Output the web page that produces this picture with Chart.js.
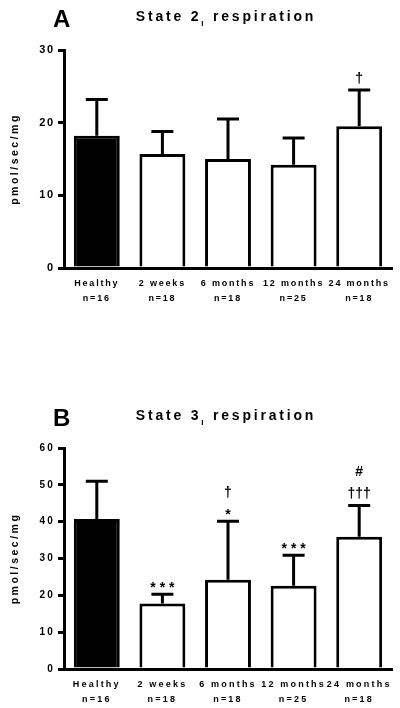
<!DOCTYPE html>
<html>
<head>
<meta charset="utf-8">
<script src="https://cdn.jsdelivr.net/npm/chart.js@4.4.1/dist/chart.umd.min.js"></script>
<style>
  html, body { margin: 0; padding: 0; background: #fff; }
  #wrap { position: relative; width: 400px; height: 708px; }
  canvas { position: absolute; left: 0; }
  #panelA { top: 0; }
  #panelB { top: 354px; }
</style>
</head>
<body>
<div id="wrap">
  <canvas id="panelA" width="400" height="354"></canvas>
  <canvas id="panelB" width="400" height="354"></canvas>
</div>
<script>
// groups and group sizes
const groups = ['Healthy', '2 weeks', '6 months', '12 months', '24 months'];
const groupSizes = ['n=16', 'n=18', 'n=18', 'n=25', 'n=18'];
const barColors = ['#000000', '#ffffff', '#ffffff', '#ffffff', '#ffffff'];

// State 2 (panel A): means and mean + SD
const state2Mean = [18.2, 15.7, 15.0, 14.2, 19.5];
const state2Upper = [23.2, 18.8, 20.5, 17.9, 24.5];
const state2Marks = [[], [], [], [], ['†']];
const state2Ticks = [0, 10, 20, 30];

// State 3 (panel B)
const state3Mean = [40.7, 17.8, 24.2, 22.6, 35.9];
const state3Upper = [51.0, 20.3, 40.1, 30.9, 44.4];
const state3Marks = [[], ['* * *'], ['*', '†'], ['* * *'], ['†††', '#']];
const state3Ticks = [0, 10, 20, 30, 40, 50, 60];

const FONT = '"Liberation Sans", Arial, sans-serif';
Chart.defaults.font.family = FONT;
Chart.defaults.color = '#000';

// error bars, significance marks, titles
const panelDecor = {
    id: 'panelDecor',
    beforeDraw(chart, args, opts) {
        chart.ctx.letterSpacing = opts.tickSpacing + 'px';
    },
    afterDatasetsDraw(chart, args, opts) {
        const ctx = chart.ctx;
        const meta = chart.getDatasetMeta(0);
        const yScale = chart.scales.y;
        ctx.save();
        ctx.strokeStyle = '#000';
        ctx.fillStyle = '#000';
        ctx.lineWidth = 3;
        opts.upper.forEach((v, i) => {
            const bar = meta.data[i];
            const top = yScale.getPixelForValue(v);
            ctx.beginPath();
            ctx.moveTo(bar.x, bar.y);
            ctx.lineTo(bar.x, top);
            ctx.moveTo(bar.x - 11, top);
            ctx.lineTo(bar.x + 11, top);
            ctx.stroke();

            ctx.font = 'bold 14px ' + FONT;
            ctx.textAlign = 'center';
            ctx.textBaseline = 'alphabetic';
            ctx.letterSpacing = '0px';
            let bottom = top - 6;
            opts.marks[i].forEach(s => {
                const m = ctx.measureText(s);
                ctx.fillText(s, bar.x, bottom - m.actualBoundingBoxDescent);
                bottom -= m.actualBoundingBoxAscent + m.actualBoundingBoxDescent + 11;
            });
        });
        ctx.restore();
    },
    afterDraw(chart, args, opts) {
        const ctx = chart.ctx;
        ctx.save();
        ctx.fillStyle = '#000';
        ctx.textBaseline = 'alphabetic';
        ctx.textAlign = 'left';

        // panel letter
        ctx.letterSpacing = '0px';
        ctx.font = 'bold 24px ' + FONT;
        ctx.fillText(opts.letter, 53, opts.letterY);

        // title with subscript
        ctx.letterSpacing = '2.8px';
        ctx.font = 'bold 14px ' + FONT;
        const w1 = ctx.measureText(opts.title[0]).width;
        const w3 = ctx.measureText(opts.title[2]).width;
        ctx.font = 'bold 8px ' + FONT;
        const w2 = ctx.measureText(opts.title[1]).width;
        let x = 226 - (w1 + w2 + w3) / 2;
        ctx.font = 'bold 14px ' + FONT;
        ctx.fillText(opts.title[0], x, opts.titleY);
        x += w1;
        ctx.font = 'bold 8px ' + FONT;
        ctx.fillText(opts.title[1], x, opts.titleY + 5);
        x += w2;
        ctx.font = 'bold 14px ' + FONT;
        ctx.fillText(opts.title[2], x, opts.titleY);

        // y axis title
        const yScale = chart.scales.y;
        ctx.translate(15, (yScale.top + yScale.bottom) / 2);
        ctx.rotate(-Math.PI / 2);
        ctx.textAlign = 'center';
        ctx.textBaseline = 'middle';
        ctx.letterSpacing = '2.5px';
        ctx.font = 'bold 10.5px ' + FONT;
        ctx.fillText('pmol/sec/mg', 0, 0);
        ctx.restore();
    }
};

function makePanel(id, means, upper, marks, ticks, setup) {
    const labels = groups.map((g, i) => [g, groupSizes[i]]);
    return new Chart(document.getElementById(id), {
        type: 'bar',
        data: {
            labels: labels,
            datasets: [{
                data: means,
                backgroundColor: barColors,
                borderColor: '#000',
                borderWidth: 3,
                barPercentage: 0.7,
                categoryPercentage: 1.0
            }]
        },
        options: {
            responsive: false,
            animation: false,
            layout: { padding: { top: setup.top, right: 8, left: 0, bottom: 0 } },
            plugins: {
                legend: { display: false },
                tooltip: { enabled: false },
                panelDecor: {
                    upper: upper,
                    marks: marks,
                    letter: setup.letter,
                    letterY: setup.letterY,
                    title: setup.title,
                    titleY: setup.titleY,
                    tickSpacing: setup.tickSpacing
                }
            },
            scales: {
                x: {
                    afterFit: (scale) => { scale.height = setup.xHeight; },
                    grid: { display: false, drawTicks: false },
                    border: { display: true, width: 3, color: '#000' },
                    ticks: {
                        autoSkip: false,
                        maxRotation: 0,
                        padding: 8,
                        color: '#000',
                        font: { size: 9, weight: 'bold', lineHeight: 15 / 9 }
                    }
                },
                y: {
                    min: ticks[0],
                    max: ticks[ticks.length - 1],
                    afterFit: (scale) => { scale.width = 64; },
                    afterBuildTicks: (scale) => { scale.ticks = ticks.map(v => ({ value: v })); },
                    grid: { drawOnChartArea: false, drawTicks: true, tickLength: 6, lineWidth: 3, color: '#000' },
                    border: { display: true, width: 3, color: '#000' },
                    ticks: {
                        padding: 3,
                        color: '#000',
                        font: { size: setup.yFont, weight: 'bold' }
                    }
                }
            }
        },
        plugins: [panelDecor]
    });
}

makePanel('panelA', state2Mean, state2Upper, state2Marks, state2Ticks, {
    top: 50, xHeight: 86, letter: 'A', letterY: 27,
    title: ['State 2', 'I', ' respiration'], titleY: 21,
    tickSpacing: 1.8, yFont: 11
});

makePanel('panelB', state3Mean, state3Upper, state3Marks, state3Ticks, {
    top: 94, xHeight: 39, letter: 'B', letterY: 72,
    title: ['State 3', 'I', ' respiration'], titleY: 66,
    tickSpacing: 2.2, yFont: 10
});
</script>
</body>
</html>
